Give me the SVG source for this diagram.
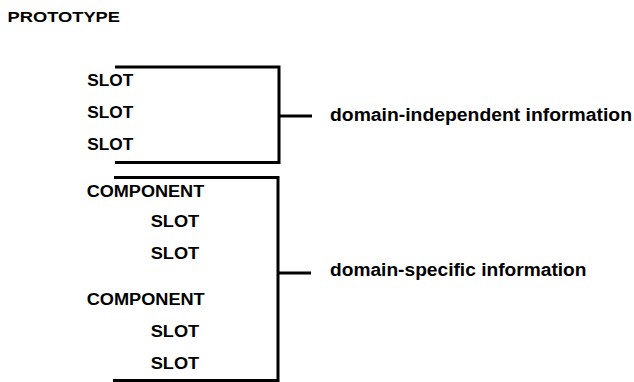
<svg xmlns="http://www.w3.org/2000/svg" width="634" height="382" viewBox="0 0 634 382">
  <style>
    text { font-family: "Liberation Sans", Arial, Helvetica, sans-serif; font-weight: bold; fill: #000; }
    .title { font-size: 14.5px; }
    .item { font-size: 16px; }
    .label { font-size: 17.5px; }
    .br { fill: none; stroke: #000; stroke-width: 3; stroke-linecap: butt; stroke-linejoin: miter; }
  </style>
  <rect width="634" height="382" fill="#fff"/>

  <g id="title">
    <text class="title" x="7.5" y="22.3" textLength="112.5" lengthAdjust="spacingAndGlyphs">PROTOTYPE</text>
  </g>

  <g id="domain-independent-slots">
    <text class="item" x="87.3" y="85.7" textLength="46" lengthAdjust="spacingAndGlyphs">SLOT</text>
    <text class="item" x="87.3" y="118" textLength="46" lengthAdjust="spacingAndGlyphs">SLOT</text>
    <text class="item" x="87.3" y="149.7" textLength="46" lengthAdjust="spacingAndGlyphs">SLOT</text>
  </g>

  <g id="component-1">
    <text class="item" x="86.7" y="196.7" textLength="117.5" lengthAdjust="spacingAndGlyphs">COMPONENT</text>
    <text class="item" x="150.7" y="226.5" textLength="48.5" lengthAdjust="spacingAndGlyphs">SLOT</text>
    <text class="item" x="150.7" y="258.5" textLength="48.5" lengthAdjust="spacingAndGlyphs">SLOT</text>
  </g>

  <g id="component-2">
    <text class="item" x="86.7" y="305.3" textLength="118" lengthAdjust="spacingAndGlyphs">COMPONENT</text>
    <text class="item" x="150.7" y="337" textLength="48.5" lengthAdjust="spacingAndGlyphs">SLOT</text>
    <text class="item" x="150.7" y="369" textLength="48.5" lengthAdjust="spacingAndGlyphs">SLOT</text>
  </g>

  <g id="label-domain-independent">
    <text class="label" x="330" y="121" textLength="302" lengthAdjust="spacingAndGlyphs">domain-independent information</text>
  </g>

  <g id="label-domain-specific">
    <text class="label" x="330" y="276" textLength="256.5" lengthAdjust="spacingAndGlyphs">domain-specific information</text>
  </g>

  <g id="connectors">
    <polyline class="br" points="115,67 279,67 279,162.5 115,162.5"/>
    <line class="br" x1="279" y1="116" x2="312" y2="116"/>
    <polyline class="br" points="114,177.5 278,177.5 278,380.5 113,380.5"/>
    <line class="br" x1="278" y1="273" x2="311" y2="273"/>
  </g>
</svg>
